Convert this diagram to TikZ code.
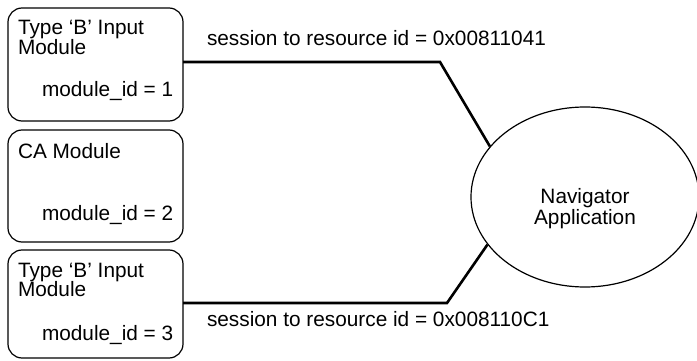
\documentclass[tikz,border=0pt]{standalone}
\usepackage{fontspec}
\setmainfont{Liberation Sans}
\usetikzlibrary{shapes.geometric}

\tikzset{
  module/.style={draw, line width=1.2pt, rounded corners=14pt,
    minimum width=175pt, inner sep=0pt, outer sep=0pt},
  label/.style={anchor=base west, inner sep=0pt, outer sep=0pt,
    font=\fontsize{20.8}{20}\selectfont},
  centred/.style={label, anchor=base},
  link/.style={line width=2.6pt, line join=miter},
}

\begin{document}
\begin{tikzpicture}[x=1pt, y=-1pt]
  \useasboundingbox (0,0) rectangle (697,361);
  \clip (0,0) rectangle (697,361);

  % module boxes
  \node[module, minimum height=113pt] (box1) at (95.5,64.5) {};
  \node[module, minimum height=112pt] (box2) at (95.5,186) {};
  \node[module, minimum height=108pt] (box3) at (95.5,304) {};

  % box texts
  \node[label] (b1l1) at (18,35) {Type ‘B’ Input};
  \node[label] (b1l2) at (18,54.5) {Module};
  \node[label] (b1id) at (42,97) {module\_id = 1};

  \node[label] (b2l1) at (18,158) {CA Module};
  \node[label] (b2id) at (42,220) {module\_id = 2};

  \node[label] (b3l1) at (18,277) {Type ‘B’ Input};
  \node[label] (b3l2) at (18,296.5) {Module};
  \node[label] (b3id) at (42,340) {module\_id = 3};

  % application
  \node[draw, ellipse, line width=1.2pt, minimum width=228pt,
        minimum height=180pt, inner sep=0pt] (nav) at (585,197) {};
  \node[centred] (nav1) at (585,204) {Navigator};
  \node[centred] (nav2) at (585,224) {Application};

  % sessions
  \coordinate (c1) at (440,62);
  \coordinate (c2) at (447,303);
  \draw[link] (c1 -| box1.east) -- (c1) -- (nav.152);
  \draw[link] (c2 -| box3.east) -- (c2) -- (nav.206);

  \node[label] (s1) at (207,46) {session to resource id = 0x00811041};
  \node[label] (s2) at (207,326) {session to resource id = 0x008110C1};
\end{tikzpicture}
\end{document}
